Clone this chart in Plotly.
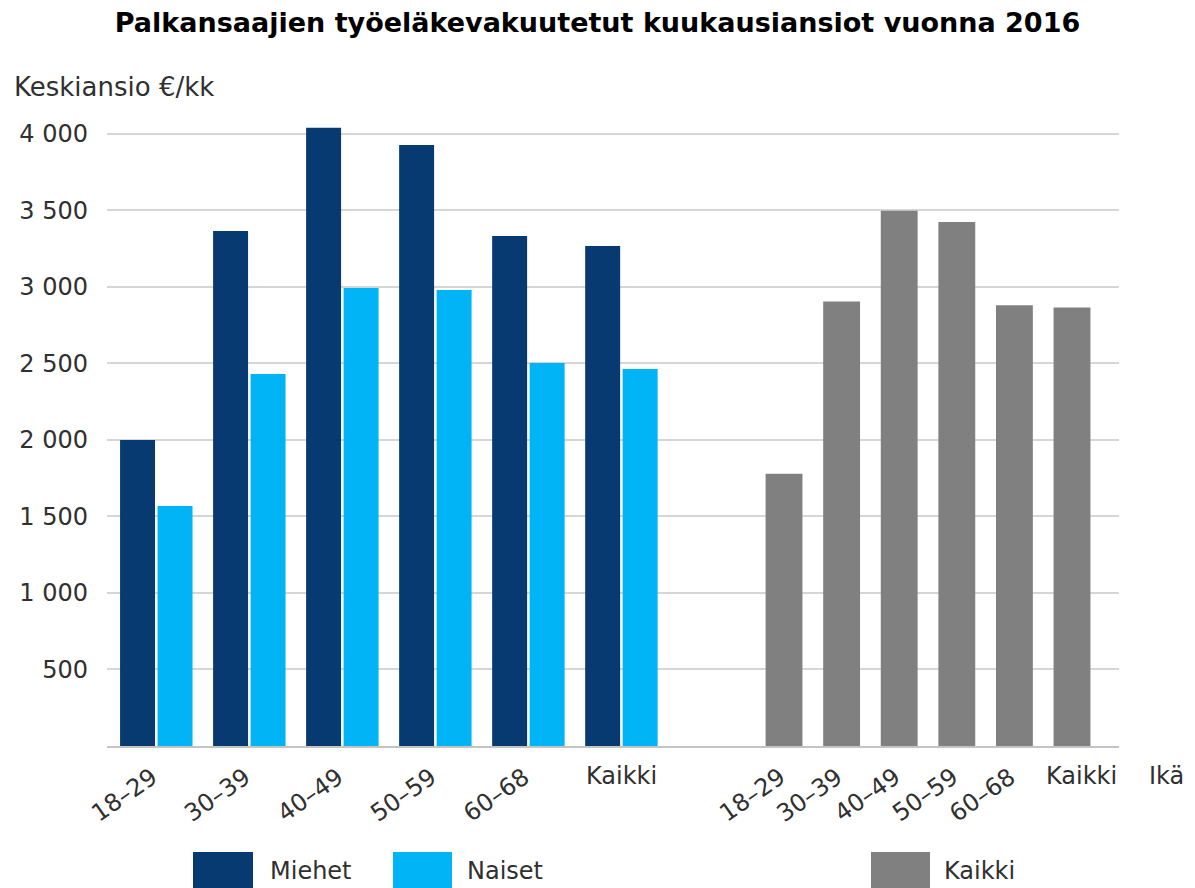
import plotly.graph_objects as go

# ---- data ----
age_groups = ["18–29", "30–39", "40–49", "50–59", "60–68", "Kaikki"]
men = [2000, 3366, 4040, 3928, 3333, 3268]
women = [1569, 2431, 2993, 2980, 2503, 2464]
everyone = [1780, 2905, 3498, 3424, 2880, 2865]
y_ticks = [500, 1000, 1500, 2000, 2500, 3000, 3500, 4000]
y_tick_text = ["500", "1 000", "1 500", "2 000", "2 500", "3 000", "3 500", "4 000"]

title_text = "Palkansaajien työeläkevakuutetut kuukausiansiot vuonna 2016"
y_title = "Keskiansio €/kk"
x_title = "Ikä"

C_MEN = "#063a70"
C_WOMEN = "#00b4f5"
C_ALL = "#808080"
FONT = "DejaVu Sans, Verdana, sans-serif"
TXT = "#303030"

# plot area in pixels (for converting layout positions to paper coords)
PL, PR, PT, PB = 107, 1119, 111, 746


def px_x(p):
    return (p - PL) / (PR - PL)


def px_y(p):
    return (PB - p) / (PB - PT)


fig = go.Figure()
fig.add_trace(go.Bar(x=age_groups, y=men, name="Miehet", marker_color=C_MEN,
                     marker_line_width=0, xaxis="x", yaxis="y", legend="legend"))
fig.add_trace(go.Bar(x=age_groups, y=women, name="Naiset", marker_color=C_WOMEN,
                     marker_line_width=0, xaxis="x", yaxis="y", legend="legend"))
fig.add_trace(go.Bar(x=age_groups, y=everyone, name="Kaikki", marker_color=C_ALL,
                     marker_line_width=0, xaxis="x2", yaxis="y", width=0.64,
                     legend="legend2"))

split = px_x(680)

annotations = []
for ax in ["x", "x2"]:
    for cat in age_groups:
        if cat == "Kaikki":
            annotations.append(dict(
                x=cat, y=0, xref=ax, yref="y", text=cat, showarrow=False,
                xanchor="center", yanchor="top", yshift=-14,
                xshift=(9 if ax == "x2" else 0),
                font=dict(family=FONT, size=24, color=TXT)))
        else:
            annotations.append(dict(
                x=cat, y=0, xref=ax, yref="y", text=cat, showarrow=False,
                xanchor="right", yanchor="top", yshift=-14, xshift=9,
                textangle=-35,
                font=dict(family=FONT, size=24, color=TXT)))

annotations.append(dict(
    x=px_x(1147), y=0, xref="paper", yref="y", text=x_title,
    showarrow=False, xanchor="left", yanchor="top", yshift=-14,
    font=dict(family=FONT, size=24, color=TXT)))
annotations.append(dict(
    x=px_x(12), y=px_y(87), xref="paper", yref="paper",
    text=y_title, showarrow=False, xanchor="left", yanchor="middle",
    font=dict(family=FONT, size=26, color=TXT)))

# large legend swatches (the reference uses big square keys)
swatches = [(193, 253, C_MEN), (393, 452, C_WOMEN), (871, 930, C_ALL)]
shapes = [dict(type="rect", xref="paper", yref="paper",
               x0=px_x(a), x1=px_x(b), y0=px_y(852), y1=px_y(895),
               fillcolor=c, line=dict(width=0), layer="above")
          for a, b, c in swatches]

fig.update_layout(
    width=1195, height=888,
    margin=dict(l=PL, r=1195 - PR, t=PT, b=888 - PB, autoexpand=False),
    paper_bgcolor="white", plot_bgcolor="white",
    barmode="group", bargap=0.194, bargroupgap=0.067,
    title=dict(text="<b>" + title_text + "</b>", x=0.5, xref="container",
               xanchor="center", y=1 - 23 / 888, yanchor="middle",
               font=dict(family=FONT, size=27, color="#000000")),
    xaxis=dict(domain=[0, split], range=[-0.53, 5.63], showticklabels=False,
               showgrid=False, showline=True, linecolor="#c4c4c4", linewidth=2,
               ticks="", zeroline=False, fixedrange=True),
    xaxis2=dict(domain=[split, 1], range=[-1.806, 5.816], showticklabels=False,
                showgrid=False, showline=True, linecolor="#c4c4c4", linewidth=2,
                ticks="", zeroline=False, anchor="y", fixedrange=True),
    yaxis=dict(range=[0, 4150], tickvals=y_ticks, ticktext=y_tick_text,
               showgrid=True, gridcolor="#d6d6d6", gridwidth=2,
               zeroline=False, showline=False, ticks="",
               ticklabelstandoff=18, fixedrange=True,
               tickfont=dict(family=FONT, size=24, color=TXT)),
    legend=dict(orientation="h", x=px_x(200), y=px_y(870),
                xanchor="left", yanchor="middle", font=dict(family=FONT, size=24, color=TXT),
                itemwidth=60, entrywidth=122, bgcolor="rgba(0,0,0,0)"),
    legend2=dict(orientation="h", x=px_x(874), y=px_y(870),
                 xanchor="left", yanchor="middle", font=dict(family=FONT, size=24, color=TXT),
                 itemwidth=60, bgcolor="rgba(0,0,0,0)"),
    annotations=annotations,
    shapes=shapes,
    showlegend=True,
)

fig.write_html("out.html", config={"displayModeBar": False},
               post_script="document.body.style.margin='0';document.body.style.overflow='hidden';")
